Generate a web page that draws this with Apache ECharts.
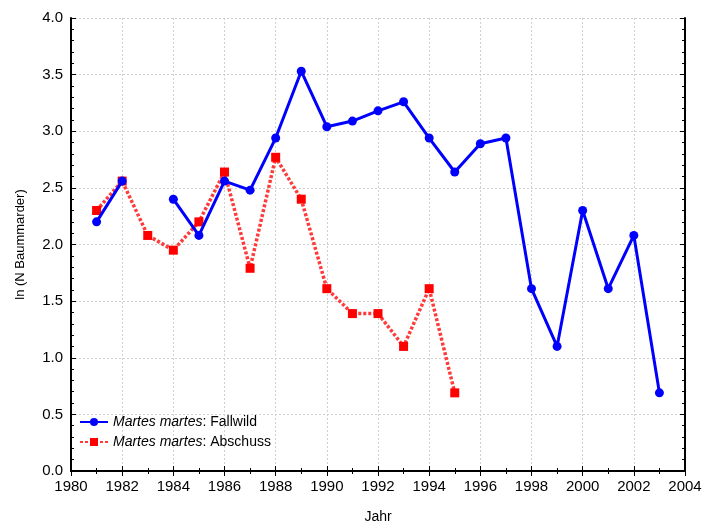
<!DOCTYPE html>
<html>
<head>
<meta charset="utf-8">
<script src="https://cdn.jsdelivr.net/npm/echarts@6/dist/echarts.min.js"></script>
<style>
  html, body { margin: 0; padding: 0; background: #fff; }
  #chart { width: 703px; height: 523px; }
</style>
</head>
<body>
<div id="chart"></div>
<script>
// Jahre und Werte (ln N)
const years = [1981, 1982, 1983, 1984, 1985, 1986, 1987, 1988, 1989, 1990, 1991, 1992,
  1993, 1994, 1995, 1996, 1997, 1998, 1999, 2000, 2001, 2002, 2003]
const fallwild = [2.20, 2.56, null, 2.40, 2.08, 2.56, 2.48, 2.94, 3.53, 3.04, 3.09, 3.18,
  3.26, 2.94, 2.64, 2.89, 2.94, 1.61, 1.10, 2.30, 1.61, 2.08, 0.69]
const abschuss = [2.30, 2.56, 2.08, 1.95, 2.20, 2.64, 1.79, 2.77, 2.40, 1.61, 1.39, 1.39,
  1.10, 1.61, 0.69]
const xTicks = [1980, 2004, 2]
const yTicks = [0, 4, 0.5]

const chart = echarts.init(document.getElementById('chart'))

const font = 'Liberation Sans, Arial, sans-serif'
const axisLine = { show: true, lineStyle: { color: '#000', width: 2 } }
const tick = { show: true, inside: true, length: 5, lineStyle: { color: '#000', width: 1 } }
const grid = { show: true, lineStyle: { color: '#d0d0d0', type: [2, 2], width: 1 } }

const option = {
  animation: false,
  // Plotfläche fest, ohne automatische Anpassung an Beschriftungen
  grid: { left: 71, right: 18, top: 18, bottom: 52, containLabel: false, outerBoundsMode: 'none' },
  legend: {
    orient: 'vertical',
    left: 74,
    top: 410,
    itemWidth: 28,
    itemHeight: 10,
    itemGap: 6,
    textStyle: {
      fontFamily: font,
      fontSize: 14,
      color: '#000',
      rich: {
        i: { fontStyle: 'italic', fontFamily: font, fontSize: 14, color: '#000' },
        n: { fontFamily: font, fontSize: 14, color: '#000' }
      }
    },
    formatter: name => '{i|Martes martes}{n|: ' + name + '}',
    data: ['Fallwild', 'Abschuss']
  },
  xAxis: [
    {
      type: 'value', min: xTicks[0], max: xTicks[1], interval: xTicks[2],
      name: 'Jahr', nameLocation: 'middle', nameGap: 39,
      nameTextStyle: { fontFamily: font, fontSize: 14, color: '#000' },
      axisLine, axisTick: tick,
      minorTick: { show: true, splitNumber: 2, length: 3, lineStyle: { color: '#000' } },
      splitLine: grid,
      axisLabel: { fontFamily: font, fontSize: 15, color: '#000', margin: 8, formatter: v => String(v) }
    },
    {
      type: 'value', position: 'top', min: xTicks[0], max: xTicks[1], interval: xTicks[2],
      axisLine, axisTick: tick,
      minorTick: { show: true, splitNumber: 2, length: 3, lineStyle: { color: '#000' } },
      splitLine: { show: false }, axisLabel: { show: false }
    }
  ],
  yAxis: [
    {
      type: 'value', min: yTicks[0], max: yTicks[1], interval: yTicks[2],
      name: 'ln (N Baummarder)', nameLocation: 'middle', nameGap: 44, nameRotate: 90,
      nameTextStyle: { fontFamily: font, fontSize: 13, color: '#000' },
      axisLine, axisTick: tick,
      minorTick: { show: true, splitNumber: 5, length: 3, lineStyle: { color: '#000' } },
      splitLine: grid,
      axisLabel: { fontFamily: font, fontSize: 15, color: '#000', margin: 8, formatter: v => v.toFixed(1) }
    },
    {
      type: 'value', position: 'right', min: yTicks[0], max: yTicks[1], interval: yTicks[2],
      axisLine, axisTick: tick,
      minorTick: { show: true, splitNumber: 5, length: 3, lineStyle: { color: '#000' } },
      splitLine: { show: false }, axisLabel: { show: false }
    }
  ],
  series: [
    {
      name: 'Fallwild',
      type: 'line',
      data: years.map((y, i) => [y, fallwild[i] === null ? '-' : fallwild[i]]),
      connectNulls: false,
      symbol: 'circle',
      symbolSize: 9,
      itemStyle: { color: '#0000ff' },
      lineStyle: { color: '#0000ff', width: 3 },
      z: 3
    },
    {
      name: 'Abschuss',
      type: 'line',
      data: abschuss.map((v, i) => [years[i], v]),
      symbol: 'rect',
      symbolSize: 9,
      itemStyle: { color: '#ff0000' },
      lineStyle: { color: '#ff3a3a', width: 3.5, type: [3, 2] },
      z: 2
    }
  ]
}

chart.setOption(option)
</script>
</body>
</html>
